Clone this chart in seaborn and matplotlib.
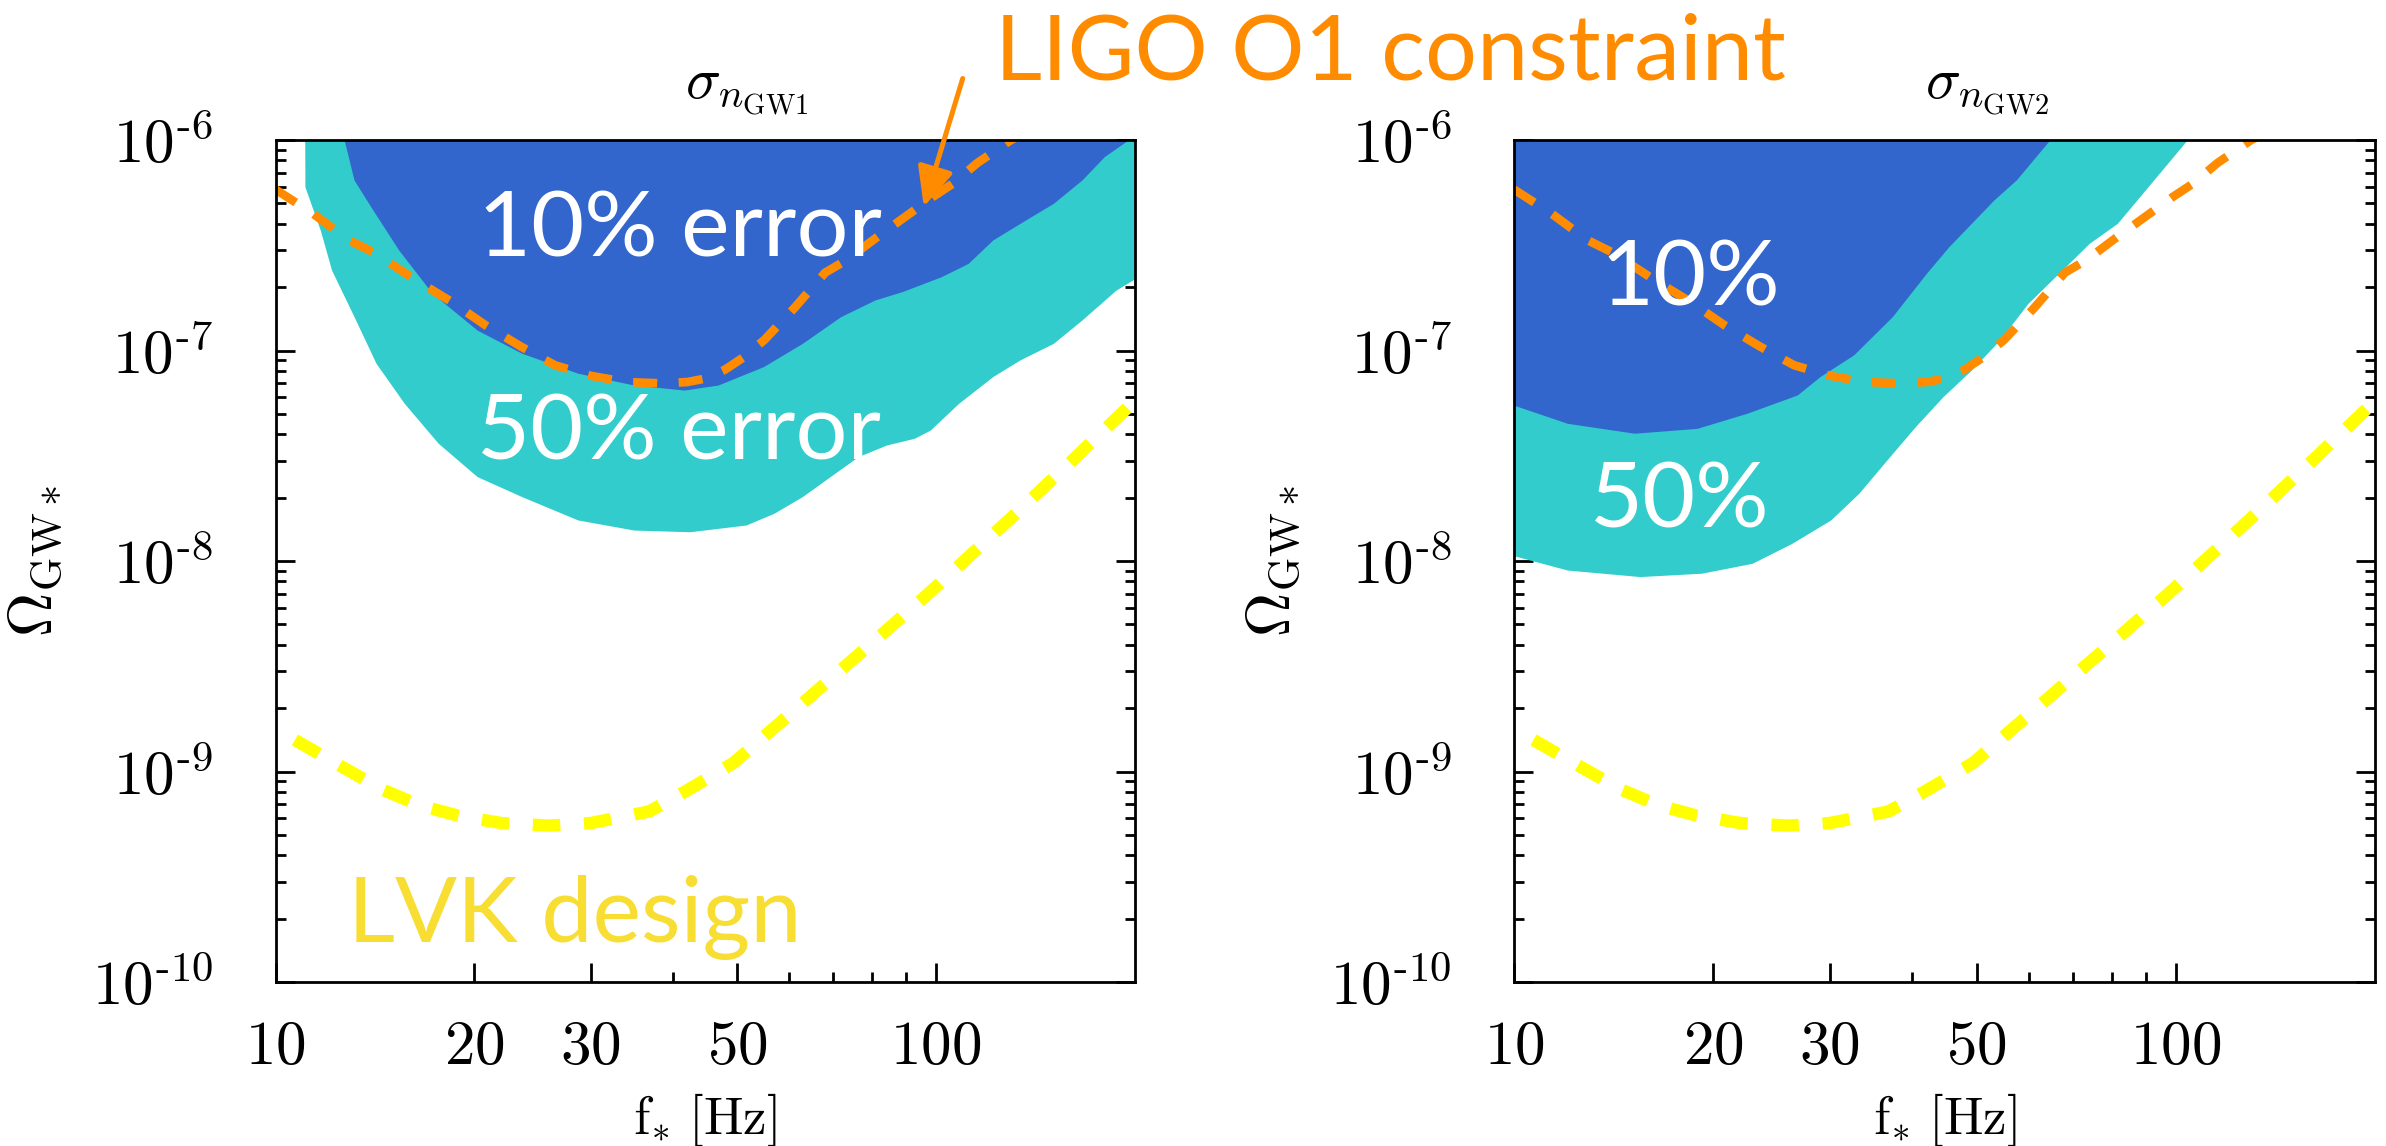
import numpy as np
import pandas as pd
import matplotlib
matplotlib.use("Agg")
import matplotlib.pyplot as plt
import seaborn as sns
from matplotlib.ticker import FixedLocator, FixedFormatter, LogLocator, NullFormatter

# ---------------- data (log10 of Omega_GW*) ----------------
# LIGO O1 constraint (orange dashed, same in both panels)
f_o1 = [10.0, 11.4, 12.9, 14.1, 16.3, 18.5, 20.8, 23.5, 26.5, 30.0, 34.0, 38.5, 42.0,
        45.0, 48.0, 51.0, 55.0, 61.0, 68.0, 73.3, 81.6, 87.1, 99.0, 106.3, 115.5, 130.0, 136.0]
lg_o1 = [-6.235, -6.35, -6.475, -6.535, -6.665, -6.77, -6.88, -6.98, -7.07, -7.12, -7.15, -7.156, -7.15,
         -7.132, -7.09, -7.035, -6.95, -6.80, -6.63, -6.57, -6.46, -6.396, -6.27, -6.206, -6.11, -6.0, -5.97]

# LVK design sensitivity (yellow dashed, same in both panels)
f_lvk = [10.7, 12.0, 14.5, 16.5, 18.9, 22.0, 26.0, 30.0, 36.8, 42.0, 49.4, 60.0, 73.6, 96.3, 130.0, 160.0, 200.0]
lg_lvk = [-8.85, -8.94, -9.085, -9.16, -9.21, -9.245, -9.257, -9.245, -9.19, -9.09, -8.959, -8.73,
          -8.489, -8.17, -7.796, -7.53, -7.24]

# sigma_nGW1 : 10% error region (lower boundary)
f_gw1_10 = [12.59, 13.15, 13.94, 15.37, 17.28, 20.2, 23.6, 28.7, 34.9, 41.6, 46.8, 54.8, 62.8, 71.8,
            80.9, 89.0, 102.0, 112.0, 122.0, 136.8, 150.7, 166.5, 180.0, 194.0, 200.0]
lg_gw1_10 = [-5.95, -6.19, -6.317, -6.523, -6.729, -6.903, -7.013, -7.108, -7.164, -7.188, -7.164, -7.077,
             -6.966, -6.839, -6.76, -6.72, -6.649, -6.586, -6.475, -6.38, -6.301, -6.19, -6.079, -6.008, -5.98]
# sigma_nGW1 : 50% error region (lower boundary)
f_gw1_50 = [11.07, 11.08, 11.69, 12.16, 13.15, 14.2, 15.67, 17.63, 20.2, 23.6, 28.7, 34.9, 42.4, 51.6,
            56.9, 62.8, 69.2, 76.3, 84.2, 92.8, 98.1, 108.3, 122.0, 134.1, 150.7, 166.5, 187.5, 200.0]
lg_gw1_50 = [-5.9, -6.222, -6.428, -6.618, -6.839, -7.061, -7.251, -7.44, -7.599, -7.694, -7.805, -7.853,
             -7.861, -7.829, -7.773, -7.694, -7.599, -7.504, -7.449, -7.417, -7.378, -7.251, -7.124,
             -7.045, -6.966, -6.855, -6.713, -6.66]

# sigma_nGW2 : 10% error region (lower boundary)
f_gw2_10 = [10.0, 12.04, 15.2, 18.9, 22.5, 26.8, 29.0, 32.6, 37.3, 42.0, 45.4, 53.1, 57.4, 64.5, 66.0]
lg_gw2_10 = [-7.26, -7.346, -7.393, -7.37, -7.298, -7.211, -7.124, -7.021, -6.839, -6.633, -6.507,
             -6.285, -6.19, -6.0, -5.95]
# sigma_nGW2 : 50% error region (lower boundary)
f_gw2_50 = [10.0, 12.04, 15.5, 19.2, 22.9, 26.3, 30.1, 33.2, 36.6, 40.4, 44.5, 49.1, 54.2, 59.8, 67.3,
            74.0, 81.6, 89.9, 99.1, 104.0, 106.0]
lg_gw2_50 = [-7.975, -8.043, -8.074, -8.058, -8.011, -7.916, -7.805, -7.678, -7.52, -7.362, -7.219,
             -7.093, -6.95, -6.776, -6.618, -6.491, -6.396, -6.238, -6.079, -6.0, -5.96]

x_ticks = [10, 20, 30, 50, 100]
x_tick_labels = ["10", "20", "30", "50", "100"]
x_minor = [40, 60, 70, 80, 90]
y_exps = [-10, -9, -8, -7, -6]

titles = [r"$\sigma_{n_{\mathrm{GW1}}}$", r"$\sigma_{n_{\mathrm{GW2}}}$"]

# ---------------- style ----------------
BLUE = "#3366CC"
CYAN = "#33CCCC"
ORANGE = "#FF8C00"
YELLOW = "#FFFF00"
LVK_TXT = "#F8DE33"

sns.set_style("white")
plt.rcParams["mathtext.fontset"] = "cm"
plt.rcParams["font.family"] = ["DejaVu Serif"]
plt.rcParams["text.color"] = "black"
plt.rcParams["axes.labelcolor"] = "black"
plt.rcParams["xtick.color"] = "black"
plt.rcParams["ytick.color"] = "black"

W, H = 2386, 1146
fig = plt.figure(figsize=(W / 100, H / 100), dpi=100)
ax_bottom = (H - 982) / H
ax_h = 842 / H
ax1 = fig.add_axes([275.5 / W, ax_bottom, 859 / W, ax_h])
ax2 = fig.add_axes([1514 / W, ax_bottom, 861 / W, ax_h])

df_o1 = pd.DataFrame({"f": f_o1, "omega": 10 ** np.array(lg_o1)})
df_lvk = pd.DataFrame({"f": f_lvk, "omega": 10 ** np.array(lg_lvk)})

panels = [
    (ax1, f_gw1_10, lg_gw1_10, f_gw1_50, lg_gw1_50, titles[0]),
    (ax2, f_gw2_10, lg_gw2_10, f_gw2_50, lg_gw2_50, titles[1]),
]

for ax, f10, lg10, f50, lg50, ttl in panels:
    ax.set_xscale("log")
    ax.set_yscale("log")
    ax.fill_between(f50, 10 ** np.array(lg50), 10 ** -5.8, color=CYAN, lw=0, zorder=1)
    ax.fill_between(f10, 10 ** np.array(lg10), 10 ** -5.8, color=BLUE, lw=0, zorder=2)
    sns.lineplot(data=df_o1, x="f", y="omega", ax=ax, color=ORANGE, lw=6.2,
                 linestyle=(0, (2.8, 2.5)), errorbar=None, sort=False, zorder=3)
    sns.lineplot(data=df_lvk, x="f", y="omega", ax=ax, color=YELLOW, lw=9.0,
                 linestyle=(0, (2.2, 1.9)), errorbar=None, sort=False, zorder=3)
    ax.set_xlim(10, 200)
    ax.set_ylim(1e-10, 1e-6)

    ax.xaxis.set_major_locator(FixedLocator(x_ticks))
    ax.xaxis.set_major_formatter(FixedFormatter([rf"${t}$" for t in x_tick_labels]))
    ax.xaxis.set_minor_locator(FixedLocator(x_minor))
    ax.xaxis.set_minor_formatter(NullFormatter())
    ax.yaxis.set_major_locator(FixedLocator([10.0 ** e for e in y_exps]))
    ax.yaxis.set_major_formatter(FixedFormatter(
        [rf"$10^{{\text{{-}}{abs(e)}}}$" for e in y_exps]))
    ax.yaxis.set_minor_locator(LogLocator(base=10, subs=np.arange(2, 10), numticks=30))
    ax.yaxis.set_minor_formatter(NullFormatter())

    ax.tick_params(axis="both", which="both", direction="in", width=2, color="black")
    ax.tick_params(axis="x", which="both", top=False, bottom=True)
    ax.tick_params(axis="y", which="both", left=True, right=True)
    ax.tick_params(which="major", length=14, labelsize=44)
    ax.tick_params(which="minor", length=7)
    ax.tick_params(axis="x", which="major", pad=25)
    ax.tick_params(axis="y", which="major", pad=45)
    for sp in ax.spines.values():
        sp.set_color("black")
        sp.set_linewidth(2)
        sp.set_zorder(5)

    ax.set_xlabel(r"$\mathrm{f}_{*}\ [\mathrm{Hz}]$", fontsize=38)
    ax.set_ylabel(r"$\Omega_{\mathrm{GW}*}$", fontsize=44)
    ax.xaxis.set_label_coords(0.5, -0.129)
    ax.yaxis.set_label_coords(-0.245, 0.5)
    ax.text(0.549, 1.026, ttl, transform=ax.transAxes, ha="center", va="bottom", fontsize=42)

# ---------------- annotations ----------------
ann_font = ["Lato", "DejaVu Sans"]


def ftext(x, y, s, color):
    fig.text(x / W, 1 - y / H, s, color=color, fontsize=66, family=ann_font,
             ha="left", va="baseline", zorder=10)


ftext(478, 256.5, "10% error", "white")
ftext(477, 460, "50% error", "white")
ftext(1600, 305, "10%", "white")
ftext(1590, 528, "50%", "white")
ftext(348, 941.5, "LVK design", LVK_TXT)
ftext(995, 80, "LIGO O1 constraint", ORANGE)

ax1.annotate("", xy=(923.8 / W, 1 - 206.7 / H), xycoords="figure fraction",
             xytext=(962.7 / W, 1 - 78.5 / H), textcoords="figure fraction",
             arrowprops=dict(arrowstyle="-|>,head_length=1.2,head_width=0.55",
                             mutation_scale=20, lw=3.6, color=ORANGE,
                             shrinkA=0, shrinkB=0),
             annotation_clip=False, zorder=10)

fig.savefig("out.png", dpi=100)
